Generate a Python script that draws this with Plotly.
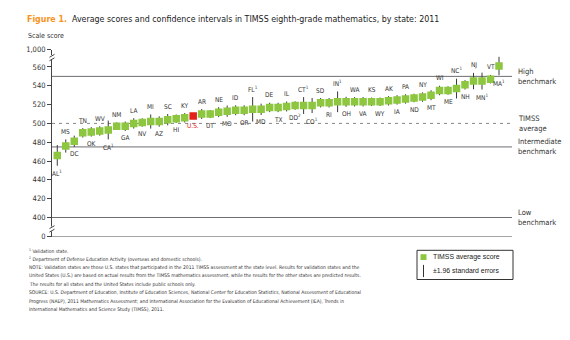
import plotly.graph_objects as go

# ---- data ----
states = ["AL<sup>1</sup>", "MS", "DC", "TN", "OK", "WV", "CA<sup>1</sup>", "NM", "GA", "LA",
          "NV", "MI", "AZ", "SC", "HI", "KY", "U.S.", "AR", "UT", "NE",
          "MO", "ID", "OR", "FL<sup>1</sup>", "MD", "DE", "TX", "IL", "DD<sup>2</sup>", "CT<sup>1</sup>",
          "CO<sup>1</sup>", "SD", "RI", "IN<sup>1</sup>", "OH", "WA", "VA", "KS", "WY", "AK",
          "IA", "PA", "ND", "NY", "MT", "WI", "ME", "NC<sup>1</sup>", "NH", "NJ",
          "MN<sup>1</sup>", "VT", "MA<sup>1</sup>"]
scores = [466, 476, 481, 490, 491, 492, 493, 497, 497, 500,
          501, 502, 502, 504, 505, 506, 508, 510, 510, 512,
          513, 514, 514, 515, 515, 517, 517, 518, 519, 519,
          519, 522, 522, 523, 523, 523, 523, 523, 523, 524,
          525, 526, 527, 528, 530, 535, 535, 537, 541, 545,
          545, 547, 561]
ci = [11, 7, 6, 5, 5, 5, 10, 4, 5, 5.5,
      4.5, 7.5, 5.5, 6, 4.5, 5, 2.5, 5.3, 4.3, 5.3,
      6, 5.3, 5.3, 13, 6, 5, 5, 5.3, 4.5, 9,
      8, 5, 5, 11, 5.3, 5, 5, 4.5, 4.5, 5,
      5, 5, 4.5, 5, 5.3, 5, 4.5, 10.5, 5, 8.7,
      9, 4.5, 9.8]
tick_vals = [379.6, 400, 420, 440, 460, 480, 500, 520, 540, 560, 578.3]
tick_text = ["0", "400", "420", "440", "460", "480", "500", "520", "540", "560", "1,000"]
benchmarks = [(550, "High<br>benchmark", "solid"), (500, "TIMSS<br>average", "dash"),
              (475, "Intermediate<br>benchmark", "solid"), (400, "Low<br>benchmark", "solid")]
footnotes = [
    "<sup>1</sup> Validation state.",
    "<sup>2</sup> Department of Defense Education Activity (overseas and domestic schools).",
    "NOTE: Validation states are those U.S. states that participated in the 2011 TIMSS assessment at the state level. Results for validation states and the",
    "United States (U.S.) are based on actual results from the TIMSS mathematics assessment, while the results for the other states are predicted results.",
    "The results for all states and the United States include public schools only.",
    "SOURCE: U.S. Department of Education, Institute of Education Sciences, National Center for Education Statistics, National Assessment of Educational",
    "Progress (NAEP), 2011 Mathematics Assessment; and International Association for the Evaluation of Educational Achievement (IEA), Trends in",
    "International Mathematics and Science Study (TIMSS), 2011.",
]

W, H = 570, 340
GREEN = "#8dc63f"
RED = "#e2231a"
GRAY = "#6d6e71"
NARROW = "Liberation Sans Narrow, DejaVu Sans Condensed, Arial Narrow, sans-serif"
SANS = "Liberation Sans, Arial, sans-serif"


def px(x):
    return x / W


def py(y):
    return 1 - y / H


xs = list(range(len(states)))
colors = [RED if s == "U.S." else GREEN for s in states]

fig = go.Figure()
fig.add_trace(go.Scatter(
    x=xs, y=scores, mode="markers",
    marker=dict(symbol="square", size=7.5, color=colors, line=dict(width=0)),
    error_y=dict(type="data", array=ci, visible=True, color="#3a3a3a", thickness=1, width=0),
    hoverinfo="skip", showlegend=False,
))

shapes = []
annotations = []

# benchmark lines + right labels
for val, lab, dash in benchmarks:
    shapes.append(dict(type="line", xref="x domain", yref="y", x0=0, x1=1, y0=val, y1=val,
                       line=dict(color=GRAY if dash == "solid" else "#888", width=1,
                                 dash="solid" if dash == "solid" else "3px,4px"),
                       layer="below"))
    annotations.append(dict(xref="paper", yref="y", x=px(516), y=val, text=lab, showarrow=False,
                            xanchor="left", yanchor="middle", align="left",
                            font=dict(family=NARROW, size=7.5, color="#333")))
# baseline at 0
shapes.append(dict(type="line", xref="x domain", yref="y", x0=0, x1=1, y0=tick_vals[0], y1=tick_vals[0],
                   line=dict(color=GRAY, width=1), layer="below"))

# axis breaks
for yb in (55, 231):
    shapes.append(dict(type="rect", xref="paper", yref="paper", x0=px(49), x1=px(55),
                       y0=py(yb + 2.5), y1=py(yb - 2.5), fillcolor="white", line=dict(width=0)))
    for dy in (-1.8, 1.8):
        shapes.append(dict(type="line", xref="paper", yref="paper",
                           x0=px(49.5), x1=px(54.5), y0=py(yb + dy + 1.5), y1=py(yb + dy - 1.5),
                           line=dict(color="#444", width=1)))

# point labels
for i, (s, v, c) in enumerate(zip(states, scores, ci)):
    above = (i % 2 == 1)
    annotations.append(dict(
        x=i, y=v + c if above else v - c, xref="x", yref="y", text=s, showarrow=False,
        xanchor="center", yanchor="bottom" if above else "top", yshift=1.5 if above else -1.5,
        font=dict(family=NARROW, size=6.5, color=RED if s == "U.S." else "#333")))

# title
annotations.append(dict(xref="paper", yref="paper", x=px(25), y=py(15), xanchor="left", yanchor="middle",
                        showarrow=False,
                        text="<b><span style='color:#f7941d'>Figure 1.</span></b>  Average scores and confidence intervals in TIMSS eighth-grade mathematics, by state: 2011",
                        font=dict(family=NARROW, size=8.8, color="#222")))
annotations.append(dict(xref="paper", yref="paper", x=px(26), y=py(33), xanchor="left", yanchor="middle",
                        showarrow=False, text="Scale score",
                        font=dict(family=NARROW, size=7, color="#333")))

# footnotes
for k, t in enumerate(footnotes):
    annotations.append(dict(xref="paper", yref="paper", x=px(27), y=py(253.3 + 8.65 * k),
                            xanchor="left", yanchor="middle", showarrow=False, text=t,
                            font=dict(family=NARROW, size=4.95, color="#333")))

# legend box
shapes.append(dict(type="rect", xref="paper", yref="paper", x0=px(417), x1=px(513), y0=py(283), y1=py(253),
                   line=dict(color="#333", width=1), fillcolor="white"))
shapes.append(dict(type="rect", xref="paper", yref="paper", x0=px(420.5), x1=px(426.5), y0=py(263), y1=py(257),
                   line=dict(width=0), fillcolor=GREEN))
shapes.append(dict(type="line", xref="paper", yref="paper", x0=px(423.5), x1=px(423.5), y0=py(280.5), y1=py(268),
                   line=dict(color="#333", width=1)))
annotations.append(dict(xref="paper", yref="paper", x=px(431), y=py(260), xanchor="left", yanchor="middle",
                        showarrow=False, text="TIMSS average score",
                        font=dict(family=SANS, size=6.9, color="#222")))
annotations.append(dict(xref="paper", yref="paper", x=px(431), y=py(274), xanchor="left", yanchor="middle",
                        showarrow=False, text="±1.96 standard errors",
                        font=dict(family=SANS, size=6.9, color="#222")))

fig.update_layout(
    width=W, height=H, margin=dict(l=0, r=0, t=0, b=0),
    paper_bgcolor="white", plot_bgcolor="white",
    xaxis=dict(domain=[px(52), px(512)], range=[-0.62, 53.53], showgrid=False, zeroline=False,
               showticklabels=False, ticks="", showline=False),
    yaxis=dict(domain=[py(239), py(47)], range=[tick_vals[0], tick_vals[-1]], showgrid=False, zeroline=False,
               tickmode="array", tickvals=tick_vals, ticktext=tick_text, ticks="outside", ticklen=4,
               tickcolor="#444", showline=True, linecolor="#444", linewidth=1,
               tickfont=dict(family=NARROW, size=7.5, color="#333")),
    shapes=shapes, annotations=annotations,
)

fig.write_html("out.html")
